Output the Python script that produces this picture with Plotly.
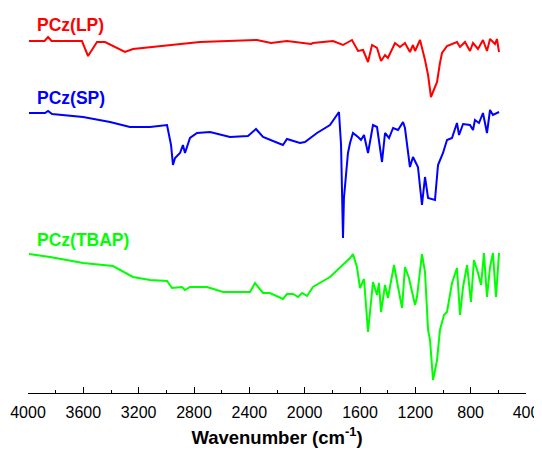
import plotly.graph_objects as go

# Wavenumber (cm-1) and transmittance (a.u., vertically offset)
lp_wn = [3993, 3880, 3855, 3830, 3610, 3566, 3501, 3443, 3299, 3241, 2757, 2345, 2243, 2128,
         1954, 1940, 1795, 1723, 1658, 1636, 1614, 1578, 1542, 1513, 1477, 1448, 1419, 1398,
         1347, 1311, 1275, 1239, 1217, 1202, 1166, 1130, 1108, 1087, 1065, 1043, 1022, 1007,
         971, 899, 877, 841, 805, 783, 747, 711, 682, 660, 624, 610, 595]
lp_t = [352, 352, 356, 352, 352, 337, 351, 351, 341, 344, 351, 353, 350, 352,
        349, 350, 352, 348, 353, 348, 342, 343, 331, 348, 345, 332, 338, 335,
        350, 346, 350, 341, 348, 342, 353, 333, 318, 296, 303, 311, 330, 340,
        347, 351, 346, 351, 342, 350, 344, 353, 342, 354, 349, 354, 341]

sp_wn = [3993, 3877, 3855, 3826, 3602, 3407, 3263, 3118, 2995, 2966, 2952, 2937, 2901, 2880,
         2865, 2829, 2778, 2684, 2540, 2410, 2352, 2301, 2193, 2157, 2128, 2084, 2034, 1998,
         1911, 1817, 1752, 1737, 1730, 1723, 1716, 1701, 1687, 1672, 1651, 1614, 1593, 1571,
         1542, 1506, 1477, 1441, 1419, 1390, 1361, 1325, 1289, 1275, 1239, 1217, 1181, 1152,
         1130, 1108, 1058, 1036, 1000, 971, 935, 899, 884, 855, 805, 783, 769, 740, 711, 682,
         660, 639, 595]
sp_t = [280, 280, 282, 279, 276, 271, 266, 266, 268, 248, 228, 235, 240, 248,
        240, 255, 260, 261, 256, 257, 264, 256, 250, 248, 254, 252, 250, 251,
        260, 268, 281, 248, 195, 155, 195, 221, 240, 250, 260, 256, 253, 258,
        240, 268, 266, 231, 260, 255, 265, 263, 271, 265, 226, 236, 226, 188,
        216, 195, 193, 228, 240, 253, 255, 270, 258, 269, 268, 263, 273, 270, 280, 260,
        283, 278, 281]

tbap_wn = [3993, 3841, 3602, 3386, 3241, 3118, 2995, 2959, 2887, 2865, 2829, 2706, 2590, 2395,
           2359, 2301, 2251, 2200, 2157, 2128, 2084, 2048, 2019, 1983, 1940, 1817, 1672, 1651,
           1622, 1600, 1571, 1542, 1506, 1477, 1463, 1448, 1419, 1398, 1354, 1325, 1296, 1275,
           1246, 1202, 1188, 1152, 1130, 1108, 1094, 1072, 1043, 1022, 993, 971, 935, 899, 877,
           855, 826, 798, 776, 747, 725, 704, 682, 660, 639, 617, 595]
tbap_t = [139, 136, 130, 127, 116, 113, 112, 105, 106, 103, 106, 106, 101, 101,
          110, 100, 100, 97, 94, 99, 99, 96, 100, 97, 106, 116, 135, 139,
          126, 105, 114, 61, 111, 98, 110, 81, 108, 95, 128, 106, 85, 126,
          115, 88, 96, 139, 121, 63, 53, 13, 33, 63, 78, 81, 110, 125, 78,
          106, 128, 91, 133, 120, 108, 140, 96, 126, 140, 96, 140]

labels = ["PCz(LP)", "PCz(SP)", "PCz(TBAP)"]
colors = ["#ff0000", "#0000ff", "#00ff00"]
label_y = [368, 295, 153]

fig = go.Figure()
for wn, t, c in zip([lp_wn, sp_wn, tbap_wn], [lp_t, sp_t, tbap_t], colors):
    fig.add_trace(go.Scatter(x=wn, y=t, mode="lines", line=dict(color=c, width=2),
                             showlegend=False, hoverinfo="skip"))

for lab, c, ly in zip(labels, colors, label_y):
    fig.add_annotation(x=3950, y=ly, xref="x", yref="y", text="<b>%s</b>" % lab,
                       showarrow=False, xanchor="left", yanchor="middle",
                       font=dict(family="Liberation Sans, Arial", size=17.5, color=c))

# page body adds an 8px margin, so the figure is 8px smaller than the window
fig.update_layout(
    width=534, height=446,
    margin=dict(l=20, r=16, t=0, b=61),
    paper_bgcolor="white", plot_bgcolor="white",
    font=dict(family="Liberation Sans, Arial", color="black"),
    xaxis=dict(
        range=[4000, 400], tickmode="array", automargin=False,
        tickvals=[4000, 3600, 3200, 2800, 2400, 2000, 1600, 1200, 800, 400],
        ticktext=["4000", "3600", "3200", "2800", "2400", "2000", "1600", "1200", "800", "400"],
        ticks="inside", ticklen=6, tickwidth=1, tickcolor="black",
        minor=dict(dtick=200, ticks="inside", ticklen=3, tickwidth=1, tickcolor="black", showgrid=False),
        showline=True, linecolor="black", linewidth=1, showgrid=False, zeroline=False,
        tickfont=dict(size=16, color="black"), ticklabelstandoff=5,
        title=dict(text="<b>Wavenumber (cm<sup>-1</sup>)</b>", font=dict(size=18.5, color="black"), standoff=10),
    ),
    yaxis=dict(range=[0, 385], visible=False, showgrid=False, zeroline=False, automargin=False),
)

fig.write_html("out.html")
